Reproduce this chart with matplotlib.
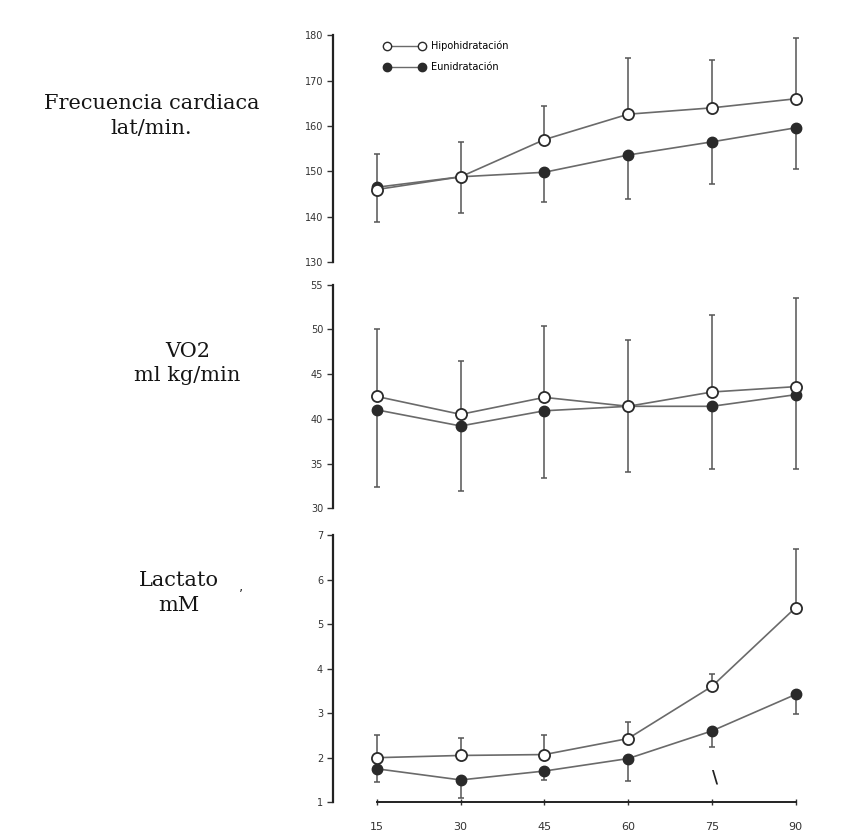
import matplotlib.pyplot as plt
from matplotlib.lines import Line2D

# minutos de ejercicio
minutos = [15, 30, 45, 60, 75, 90]

# Frecuencia cardiaca (lat/min)
fc_hipo = [146.0, 148.8, 157.0, 162.6, 164.0, 166.0]
fc_hipo_err = [7.8, 7.6, 7.4, 12.3, 10.5, 13.3]
fc_eu = [146.5, 148.8, 149.8, 153.6, 156.5, 159.6]
fc_eu_err = [7.7, 8.0, 6.6, 9.7, 9.2, 9.0]

# VO2 (ml kg/min)
vo2_hipo = [42.5, 40.5, 42.4, 41.4, 43.0, 43.6]
vo2_hipo_err = [7.5, 6.0, 8.0, 7.4, 8.6, 9.9]
vo2_eu = [41.0, 39.2, 40.9, 41.4, 41.4, 42.7]
vo2_eu_err = [8.6, 7.3, 7.5, 7.3, 7.0, 8.3]

# Lactato (mM)
lac_hipo = [2.0, 2.05, 2.07, 2.43, 3.6, 5.37]
lac_hipo_err = [0.5, 0.4, 0.43, 0.37, 0.27, 1.31]
lac_eu = [1.75, 1.5, 1.7, 1.98, 2.6, 3.42]
lac_eu_err = [0.3, 0.4, 0.2, 0.5, 0.35, 0.44]

paneles = [
    dict(hipo=fc_hipo, hipo_err=fc_hipo_err, eu=fc_eu, eu_err=fc_eu_err,
         ylim=(130, 180), yticks=[130, 140, 150, 160, 170, 180],
         label='Frecuencia cardiaca\nlat/min.', rect=[0.387, 0.688, 0.603, 0.270],
         label_xy=(0.176, 0.862)),
    dict(hipo=vo2_hipo, hipo_err=vo2_hipo_err, eu=vo2_eu, eu_err=vo2_eu_err,
         ylim=(30, 55), yticks=[30, 35, 40, 45, 50, 55],
         label='VO2\nml kg/min', rect=[0.387, 0.395, 0.603, 0.266],
         label_xy=(0.218, 0.567)),
    dict(hipo=lac_hipo, hipo_err=lac_hipo_err, eu=lac_eu, eu_err=lac_eu_err,
         ylim=(1, 7), yticks=[1, 2, 3, 4, 5, 6, 7],
         label='Lactato\nmM', rect=[0.387, 0.045, 0.603, 0.318],
         label_xy=(0.208, 0.294)),
]

linea = '#6a6a6a'
oscuro = '#2a2a2a'

fig = plt.figure(figsize=(8.6, 8.4), dpi=100)

axes = []
for p in paneles:
    ax = fig.add_axes(p['rect'])
    axes.append(ax)
    zeros = [0] * len(minutos)

    # barras de error: hacia arriba para hipohidratacion, hacia abajo para euhidratacion
    ax.errorbar(minutos, p['hipo'], yerr=[zeros, p['hipo_err']], fmt='none',
                ecolor='#555555', elinewidth=1.1, capsize=2, capthick=1.1, zorder=2)
    ax.errorbar(minutos, p['eu'], yerr=[p['eu_err'], zeros], fmt='none',
                ecolor='#555555', elinewidth=1.1, capsize=2, capthick=1.1, zorder=2)

    ax.plot(minutos, p['eu'], '-', color=linea, lw=1.2, zorder=3)
    ax.plot(minutos, p['hipo'], '-', color=linea, lw=1.2, zorder=3)
    ax.plot(minutos, p['eu'], 'o', color=oscuro, mfc=oscuro, mec=oscuro, ms=7.5, zorder=4)
    ax.plot(minutos, p['hipo'], 'o', color=oscuro, mfc='white', mec=oscuro, mew=1.3, ms=8, zorder=5)

    ax.set_xlim(7.1, 100)
    ax.set_ylim(*p['ylim'])
    ax.set_yticks(p['yticks'])
    ax.set_yticklabels([str(t) for t in p['yticks']], fontsize=7, color='#333333')
    ax.tick_params(axis='y', direction='out', length=4, width=1, pad=3, colors='#333333')
    for s in ['top', 'right']:
        ax.spines[s].set_visible(False)
    ax.spines['left'].set_linewidth(1.6)
    ax.spines['left'].set_color('#222222')
    ax.patch.set_alpha(0)

    fig.text(p['label_xy'][0], p['label_xy'][1], p['label'], ha='center', va='center',
             family='DejaVu Serif', fontsize=15, color='#151515', linespacing=1.35)

for ax in axes[:2]:
    ax.spines['bottom'].set_visible(False)
    ax.set_xticks([])

ax = axes[2]
ax.spines['bottom'].set_bounds(15, 90)
ax.spines['bottom'].set_linewidth(1.4)
ax.spines['bottom'].set_color('#222222')
ax.set_xticks(minutos)
ax.set_xticklabels([str(m) for m in minutos], fontsize=8, color='#333333')
ax.tick_params(axis='x', direction='inout', length=5, width=1, pad=12, colors='#333333')
ax.text(75.5, 1.55, '\\', fontsize=12, color='#222222', ha='center', va='center',
        fontweight='bold')
fig.text(0.28, 0.302, ',', fontsize=10, color='#333333', ha='center', va='center')

# leyenda
handles = [
    Line2D([0], [0], color=linea, lw=1, marker='o', mfc='white', mec=oscuro, ms=6),
    Line2D([0], [0], color=linea, lw=1, marker='o', mfc=oscuro, mec=oscuro, ms=6),
]
axes[0].legend(handles, ['Hipohidratación', 'Eunidratación'], loc='upper left',
               bbox_to_anchor=(0.085, 1.005), frameon=False, fontsize=7, numpoints=2,
               handlelength=4.2, handletextpad=0.7, labelspacing=1.1, borderpad=0.2)

fig.savefig('out.png', dpi=100, facecolor='white')
